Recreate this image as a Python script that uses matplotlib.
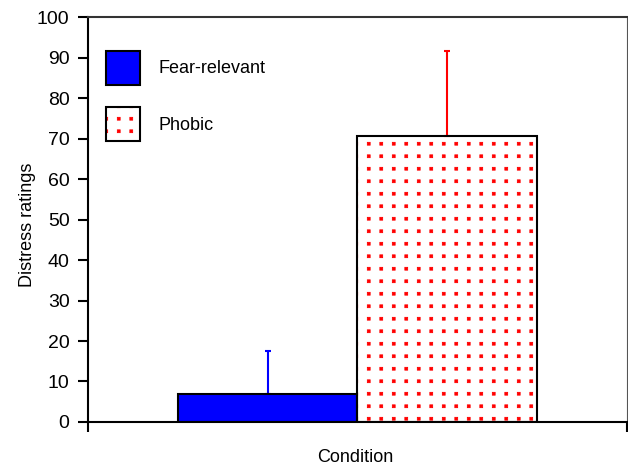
import numpy as np
import matplotlib
matplotlib.use('Agg')
import matplotlib.pyplot as plt
import matplotlib.hatch as mhatch
from matplotlib.path import Path
from matplotlib.patches import Patch

conditions = ['Fear-relevant', 'Phobic']
means = [6.9, 70.6]
err_up = [10.7, 21.1]
face_colors = ['#0000ff', 'white']
accent_colors = ['#0000ff', '#ff0000']
hatches = ['', '.']
y_ticks = list(range(0, 101, 10))


class SquareDots(mhatch.HatchPatternBase):
    # square grid of small square dots (the built-in '.' is staggered)
    def __init__(self, hatch, density):
        self.num_rows = 8 if '.' in hatch else 0
        self.num_vertices = 5 * self.num_rows ** 2

    def set_vertices_and_codes(self, vertices, codes):
        step = 1.0 / self.num_rows
        h = 0.014
        sq = np.array([[-h, -h], [h, -h], [h, h], [-h, h], [-h, -h]])
        k = 0
        for i in range(self.num_rows):
            for j in range(self.num_rows):
                vertices[k:k + 5] = sq + [(i + 0.5) * step, (j + 0.5) * step]
                codes[k:k + 5] = [Path.MOVETO, Path.LINETO, Path.LINETO,
                                  Path.LINETO, Path.CLOSEPOLY]
                k += 5


mhatch._hatch_types = [t for t in mhatch._hatch_types
                       if t is not mhatch.SmallFilledCircles] + [SquareDots]

plt.rcParams['font.family'] = ['Liberation Sans', 'DejaVu Sans']
plt.rcParams['hatch.linewidth'] = 0.6

fig = plt.figure(figsize=(6.28, 4.67), dpi=100)
ax = fig.add_axes([0.140, 0.0964, 0.858, 0.867])

x = np.arange(1, len(conditions) + 1)

# fill / hatch layer
ax.bar(x, means, width=1.0, color=face_colors, edgecolor=accent_colors,
       hatch=hatches, linewidth=0, zorder=2)
# error bars (upper only)
for xi, m, e, c in zip(x, means, err_up, accent_colors):
    ax.errorbar(xi, m, yerr=[[0], [e]], fmt='none', ecolor=c,
                elinewidth=1.5, capsize=2.5, capthick=1.5, zorder=2.5)
# outlines
ax.bar(x, means, width=1.0, fill=False, edgecolor='black', linewidth=1.5,
       zorder=3)

ax.set_xlim(0, 3)
ax.set_ylim(0, 100)
ax.set_yticks(y_ticks)
ax.set_xticks([0, 3])
ax.set_xticklabels([])
ax.tick_params(axis='both', direction='out', length=7.2, width=1.5,
               labelsize=14, pad=6)

for side in ['left', 'bottom']:
    ax.spines[side].set_linewidth(1.5)
ax.spines['top'].set_linewidth(1.5)
ax.spines['top'].set_color('#333333')
ax.spines['right'].set_linewidth(0.8)
ax.spines['right'].set_color('#555555')

ax.set_ylabel('Distress ratings', fontsize=13)
ax.yaxis.set_label_coords(-0.097, 0.486)
ax.set_xlabel('Condition', fontsize=13)
ax.xaxis.set_label_coords(0.497, -0.067)

handles = []
for fc, ac, h in zip(face_colors, accent_colors, hatches):
    fill = Patch(facecolor=fc, edgecolor=ac, hatch=h, linewidth=0)
    edge = Patch(fill=False, edgecolor='black', linewidth=1.5)
    handles.append((fill, edge))
ax.legend(handles, conditions, loc='upper left', bbox_to_anchor=(0.033, 0.916),
          frameon=False, fontsize=13, handlelength=1.9, handleheight=2.5,
          labelspacing=1.25, handletextpad=1.0, borderpad=0, borderaxespad=0)

fig.savefig('out.png', dpi=100)
